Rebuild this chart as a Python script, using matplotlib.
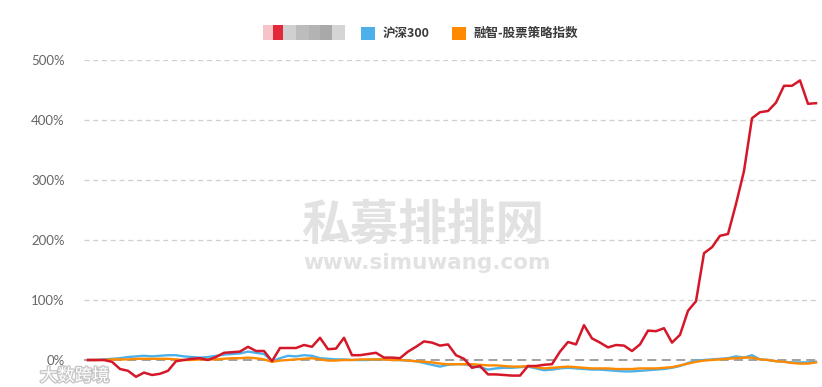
import numpy as np
import matplotlib
matplotlib.use('Agg')
import matplotlib.pyplot as plt
from matplotlib.patches import Rectangle
import matplotlib.patheffects as pe

plt.rcParams['font.family'] = ['Noto Sans CJK SC', 'DejaVu Sans']

# values in % (one point per period)
fund = [0, 0, 0, -3, -15, -18, -28, -21, -25, -23,
        -18, -2, 0, 2, 3, 0, 5, 12, 13, 14,
        22, 15, 15, -2, 20, 20, 20, 25, 22, 37,
        18, 19, 37, 8, 8, 10, 12, 4, 4, 3,
        14, 22, 31, 29, 24, 26, 8, 2, -13, -10,
        -24, -24, -25, -26, -26, -10, -10, -8, -7, 14,
        30, 26, 58, 36, 29, 21, 25, 24, 15, 26,
        49, 48, 53, 29, 42, 82, 98, 178, 188, 207,
        210, 260, 315, 403, 413, 415, 429, 457, 457, 466,
        427, 428]
hs300 = [0, 0, 1, 2, 3, 5, 6, 7, 6, 7,
         8, 8, 6, 5, 4, 5, 7, 9, 10, 11,
         14, 12, 10, -2, 3, 7, 6, 8, 7, 3,
         2, 1, 1, 0, 0, 0, 1, 1, 0, 0,
         -1, -2, -5, -8, -11, -8, -7, -7, -10, -12,
         -16, -14, -13, -13, -12, -11, -14, -17, -16, -14,
         -13, -14, -15, -16, -16, -17, -18, -19, -19, -18,
         -17, -16, -15, -13, -10, -5, -1, 0, 1, 2,
         3, 6, 4, 8, 1, 0, -2, -3, -4, -4,
         -4, -3]
rz_index = [0, 0, 0, 1, 1, 1, 2, 2, 2, 2,
            2, 1, 0, 0, 1, 1, 1, 2, 3, 3,
            4, 3, 1, -3, -1, 0, 1, 2, 3, 1,
            -1, -1, 0, 0, 1, 1, 1, 1, 0, 0,
            -1, -2, -3, -4, -6, -7, -7, -7, -7, -8,
            -9, -9, -10, -11, -11, -10, -12, -14, -13, -12,
            -11, -12, -13, -14, -14, -14, -15, -15, -15, -14,
            -14, -14, -13, -12, -9, -6, -3, -1, 0, 1,
            2, 3, 4, 4, 1, 0, -2, -3, -5, -6,
            -6, -4]
yticks = [0, 100, 200, 300, 400, 500]
labels = ['沪深300', '融智-股票策略指数']

RED = '#d5172a'
BLUE = '#4cb1ea'
ORANGE = '#ff8a00'

W, H = 822, 387
fig = plt.figure(figsize=(W / 100, H / 100), dpi=100)


def fx(px):
    return px / W


def fy(py):
    return 1 - py / H


# axes: left 84px, right 818px, top y=60 (500%), bottom y=387 (-45%)
ax = fig.add_axes([fx(84), 0, fx(818) - fx(84), fy(60)])
x = np.arange(len(fund))
ax.set_xlim(-0.5, len(fund) - 0.75)
ax.set_ylim(-45, 500)

for v in yticks[1:]:
    ax.axhline(v, color='#cfcfcf', lw=0.9, ls=(0, (4, 3)), zorder=1)
ax.axhline(0, color='#999999', lw=1.3, ls=(0, (5, 3)), zorder=1)

ax.plot(x, hs300, color=BLUE, lw=1.7, zorder=3)
ax.plot(x, rz_index, color=ORANGE, lw=1.7, zorder=3)
ax.plot(x, fund, color=RED, lw=1.8, zorder=4)

ax.set_yticks(yticks)
ax.set_yticklabels([f'{v}%' for v in yticks], family=['Lato', 'DejaVu Sans'],
                   fontsize=9.5, color='#666666')
ax.tick_params(axis='y', length=0, pad=14)
ax.set_xticks([])
for s in ax.spines.values():
    s.set_visible(False)

# watermarks
fig.text(fx(423), fy(226), '私募排排网', fontsize=35, fontweight='bold',
         color='#e2e2e2', ha='center', va='center', zorder=0)
fig.text(fx(427), fy(263), 'www.simuwang.com', fontsize=15.5, fontweight='bold',
         color='#e2e2e2', ha='center', va='center', zorder=0,
         family=['DejaVu Sans'])
fig.text(fx(40), fy(376), '大数跨境', fontsize=12.5, color='white',
         ha='left', va='center', zorder=10,
         path_effects=[pe.withStroke(linewidth=2, foreground='#c8c8c8')])

# legend: first entry is pixelated in the source
blocks = [(263, 273, '#f6c3c8'), (273, 283, '#e2293a'), (283, 296, '#d0d0d0'),
          (296, 309, '#bcbcbc'), (309, 320, '#b3b3b3'), (320, 332, '#a9a9a9'),
          (332, 345, '#d5d5d5')]
for x0, x1, c in blocks:
    fig.patches.append(Rectangle((fx(x0), fy(40)), fx(x1) - fx(x0), fy(25) - fy(40),
                                 transform=fig.transFigure, color=c, lw=0))

for sq_x, txt_x, c, lab in [(361, 383, BLUE, labels[0]), (452, 473, ORANGE, labels[1])]:
    fig.patches.append(Rectangle((fx(sq_x), fy(40)), fx(sq_x + 14) - fx(sq_x), fy(27) - fy(40),
                                 transform=fig.transFigure, color=c, lw=0))
    fig.text(fx(txt_x), fy(33.5), lab, fontsize=9, color='#3a3a3a',
             ha='left', va='center', fontweight='bold')

fig.savefig('out.png', dpi=100)
